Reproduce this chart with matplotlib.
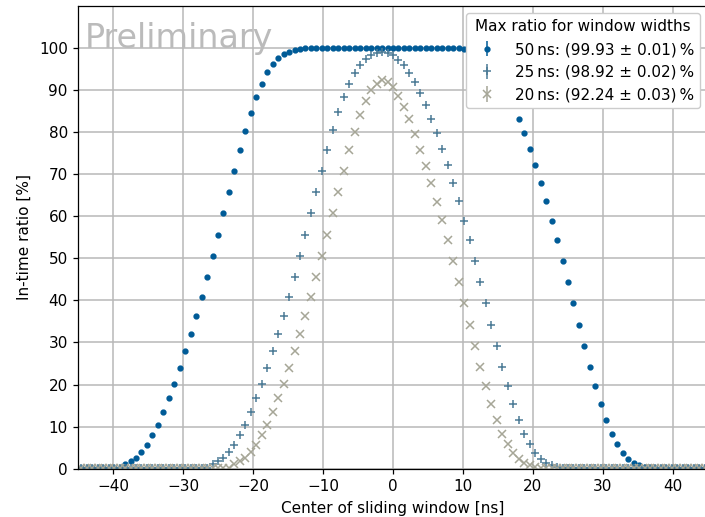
import numpy as np
import matplotlib
matplotlib.use("Agg")
import matplotlib.pyplot as plt

# ---- data -------------------------------------------------------------
bin_width = 0.78125  # ns
k_index = np.arange(-57, 58)
x_center = k_index * bin_width

ratio_50 = ([0.2] * 8 +
            [1.0, 1.8, 2.6, 4.0, 5.7, 7.9, 10.5, 13.5, 16.7, 20.2, 23.9, 27.9,
             32.0, 36.3, 40.9, 45.6, 50.5, 55.5, 60.7, 65.7, 70.8, 75.7, 80.3,
             84.5, 88.4, 91.5, 94.2, 96.1, 97.6, 98.5, 99.1, 99.5, 99.7, 99.85] +
            [99.9] * 13 + [99.93] + [99.9] * 13 +
            [99.85, 99.7, 99.4, 98.9, 98.2, 97.2, 95.9, 94.0, 91.9, 89.3, 86.3,
             83.2, 79.7, 75.9, 72.1, 67.9, 63.5, 58.9, 54.3, 49.4, 44.3, 39.4,
             34.1, 29.1, 24.2, 19.6, 15.3, 11.5, 8.3, 5.8, 3.7, 2.2, 1.4, 0.9, 0.5] +
            [0.2] * 11)

ratio_25 = ([0.2] * 24 +
            [1.0, 1.8, 2.6, 4.0, 5.7, 7.9, 10.5, 13.5, 16.7, 20.2, 23.9, 27.9,
             32.0, 36.3, 40.9, 45.6, 50.5, 55.5, 60.7, 65.7, 70.8, 75.7, 80.4,
             84.7, 88.3, 91.5, 94.0, 96.0, 97.3, 98.2, 98.7, 98.92, 98.7, 98.3,
             97.1, 95.9, 93.9, 91.9, 89.2, 86.3, 83.2, 79.7, 75.9, 72.1, 67.9,
             63.5, 58.9, 54.3, 49.4, 44.3, 39.4, 34.1, 29.1, 24.2, 19.6, 15.3,
             11.5, 8.3, 5.8, 3.7, 2.2, 1.4, 0.9, 0.5] +
            [0.2] * 27)

ratio_20 = ([0.2] * 28 +
            [1.0, 1.8, 2.6, 4.0, 5.7, 7.9, 10.5, 13.5, 16.7, 20.2, 23.9, 27.9,
             32.0, 36.3, 40.9, 45.6, 50.5, 55.5, 60.7, 65.7, 70.8, 75.7, 80.1,
             84.0, 87.3, 89.9, 91.5, 92.24, 91.8, 90.7, 88.5, 86.0, 83.1, 79.5,
             75.8, 72.0, 67.8, 63.4, 59.0, 54.3, 49.4, 44.3, 39.4, 34.1, 29.1,
             24.2, 19.6, 15.3, 11.5, 8.3, 5.8, 3.7, 2.2, 1.4, 0.9, 0.5] +
            [0.2] * 31)

ratio_err = [0.01, 0.02, 0.03]
labels = ["50\u2009ns: (99.93 \u00b1 0.01)\u2009%",
          "25\u2009ns: (98.92 \u00b1 0.02)\u2009%",
          "20\u2009ns: (92.24 \u00b1 0.03)\u2009%"]
legend_title = "Max ratio for window widths"
x_ticks = [-40, -30, -20, -10, 0, 10, 20, 30, 40]
y_ticks = [0, 10, 20, 30, 40, 50, 60, 70, 80, 90, 100]

assert len(ratio_50) == len(ratio_25) == len(ratio_20) == len(x_center)

# ---- style ------------------------------------------------------------
colors = ["#005b97", "#4c7b96", "#a6a697"]
markers = ["o", "+", "x"]
msizes = [3.4, 5.4, 5.4]
FS = 11

fig = plt.figure(figsize=(7.05, 5.17), dpi=100)
ax = fig.add_axes([78 / 705, 48.3 / 517, 630 / 705, 463 / 517])

for y, err, c, m, ms, lab in zip([ratio_50, ratio_25, ratio_20], ratio_err,
                                 colors, markers, msizes, labels):
    ax.errorbar(x_center, y, yerr=err, fmt=m, color=c, ms=ms, mew=1.1,
                elinewidth=1.1, label=lab)

ax.set_xlim(-45, 45)
ax.set_ylim(0, 110)
ax.set_xticks(x_ticks)
ax.set_yticks(y_ticks)
ax.grid(True, color="#b8b8b8", linewidth=1.1)
ax.set_axisbelow(True)
for sp in ax.spines.values():
    sp.set_linewidth(0.9)
ax.tick_params(labelsize=FS, width=0.9, length=3.8)
ax.set_xlabel("Center of sliding window [ns]", fontsize=FS, labelpad=5)
ax.set_ylabel("In-time ratio [%]", fontsize=FS, labelpad=5.5)

ax.text(0.01, 0.9086, "Preliminary", transform=ax.transAxes, fontsize=24,
        color="#bbbbbb", va="baseline", ha="left")

leg = ax.legend(title=legend_title, loc="upper right", framealpha=1.0,
                fontsize=FS, title_fontsize=FS)

fig.savefig("out.png", dpi=100)
